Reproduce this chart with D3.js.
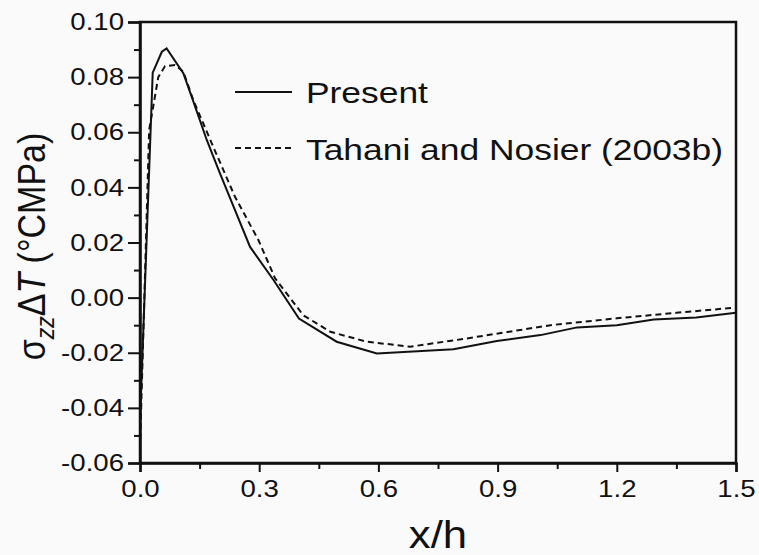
<!DOCTYPE html>
<html>
<head>
<meta charset="utf-8">
<script src="https://cdn.jsdelivr.net/npm/d3@7"></script>
<style>
  html, body { margin: 0; padding: 0; background: #fafafa; }
  svg { display: block; }
  text { font-family: Arial, "Liberation Sans", sans-serif; fill: #111; }
</style>
</head>
<body>
<svg id="chart" width="759" height="555"></svg>
<script>
// Through-thickness normal stress vs. distance from the free edge
const presentX = [0, 0.032, 0.055, 0.067, 0.109, 0.130, 0.168, 0.200, 0.277, 0.336, 0.400, 0.495, 0.596, 0.789, 0.898, 1.008, 1.100, 1.200, 1.293, 1.400, 1.500];
const presentY = [-0.045, 0.0816, 0.0892, 0.0904, 0.0814, 0.0729, 0.0572, 0.0455, 0.0184, 0.0064, -0.0076, -0.0160, -0.0203, -0.0187, -0.0157, -0.0136, -0.0108, -0.0100, -0.0079, -0.0072, -0.0055];

const tahaniX = [0, 0.023, 0.046, 0.063, 0.088, 0.109, 0.134, 0.185, 0.239, 0.298, 0.340, 0.411, 0.479, 0.571, 0.680, 0.823, 1.033, 1.200, 1.350, 1.500];
const tahaniY = [-0.055, 0.0608, 0.0800, 0.0840, 0.0844, 0.0820, 0.0717, 0.0545, 0.0366, 0.0209, 0.0070, -0.0064, -0.0124, -0.0160, -0.0178, -0.0148, -0.0100, -0.0075, -0.0055, -0.0036];

const xTicks = [0.0, 0.3, 0.6, 0.9, 1.2, 1.5];
const xMinor = [0.15, 0.45, 0.75, 1.05, 1.35];
const yTicks = [-0.06, -0.04, -0.02, 0.00, 0.02, 0.04, 0.06, 0.08, 0.10];
const yMinor = [-0.05, -0.03, -0.01, 0.01, 0.03, 0.05, 0.07, 0.09];

const seriesNames = ["Present", "Tahani and Nosier (2003b)"];

const svg = d3.select("#chart");
const plotLeft = 140, plotRight = 736, plotTop = 22, plotBottom = 463;
const widen = 1.15; // horizontal glyph stretch used for all upright text

const x = d3.scaleLinear().domain([0, 1.5]).range([plotLeft, plotRight]);
const y = d3.scaleLinear().domain([-0.06, 0.10]).range([plotBottom, plotTop]);

// plain hyphen for negatives
const fmt = v => d3.format(".2f")(v).replace("\u2212", "-");
const fmtX = d3.format(".1f");

// stretch a text element horizontally about its own anchor
function stretch(sel, k = widen) {
  sel.each(function () {
    const t = d3.select(this);
    const x0 = +t.attr("x") || 0;
    t.attr("x", x0 / k).attr("transform", `scale(${k},1)`);
  });
}

// frame
svg.append("rect")
  .attr("x", plotLeft).attr("y", plotTop)
  .attr("width", plotRight - plotLeft).attr("height", plotBottom - plotTop)
  .attr("fill", "none").attr("stroke", "#111").attr("stroke-width", 2.5);

// left axis
svg.append("g").attr("transform", `translate(${plotLeft},0)`)
  .call(d3.axisLeft(y).tickValues(yTicks).tickFormat(fmt).tickSize(12).tickPadding(4));
svg.append("g").attr("transform", `translate(${plotLeft},0)`)
  .call(d3.axisLeft(y).tickValues(yMinor).tickFormat("").tickSize(6))
  .select(".domain").remove();

// bottom axis
svg.append("g").attr("transform", `translate(0,${plotBottom})`)
  .call(d3.axisBottom(x).tickValues(xTicks).tickFormat(fmtX).tickSize(9).tickPadding(8));
svg.append("g").attr("transform", `translate(0,${plotBottom})`)
  .call(d3.axisBottom(x).tickValues(xMinor).tickFormat("").tickSize(6))
  .select(".domain").remove();

svg.selectAll(".domain").attr("stroke", "#111").attr("stroke-width", 2.5);
svg.selectAll(".tick line").attr("stroke", "#111").attr("stroke-width", 2);
svg.selectAll(".tick text").attr("font-size", 24).attr("fill", "#111")
  .attr("font-family", "Arial, 'Liberation Sans', sans-serif")
  .call(stretch);

// data lines
const line = d3.line().x(d => x(d[0])).y(d => y(d[1]));
const presentData = presentX.map((v, i) => [v, presentY[i]]);
const tahaniData = tahaniX.map((v, i) => [v, tahaniY[i]]);

svg.append("clipPath").attr("id", "plotclip")
  .append("rect").attr("x", plotLeft).attr("y", plotTop)
  .attr("width", plotRight - plotLeft).attr("height", plotBottom - plotTop);

svg.append("path").datum(presentData)
  .attr("clip-path", "url(#plotclip)")
  .attr("d", line).attr("fill", "none").attr("stroke", "#111").attr("stroke-width", 2);
svg.append("path").datum(tahaniData)
  .attr("clip-path", "url(#plotclip)")
  .attr("d", line).attr("fill", "none").attr("stroke", "#111").attr("stroke-width", 2)
  .attr("stroke-dasharray", "6,4");

// legend
const legend = svg.append("g");
legend.append("line").attr("x1", 235).attr("x2", 292).attr("y1", 92).attr("y2", 92)
  .attr("stroke", "#111").attr("stroke-width", 2);
legend.append("text").attr("x", 306).attr("y", 103).attr("font-size", 30).text(seriesNames[0]);
legend.append("line").attr("x1", 235).attr("x2", 292).attr("y1", 148).attr("y2", 148)
  .attr("stroke", "#111").attr("stroke-width", 2).attr("stroke-dasharray", "6,4");
legend.append("text").attr("x", 306).attr("y", 160).attr("font-size", 30).text(seriesNames[1]);
legend.selectAll("text").call(stretch, 1.18);

// axis titles
svg.append("text").attr("x", (plotLeft + plotRight) / 2).attr("y", 548)
  .attr("text-anchor", "middle").attr("font-size", 38).text("x/h").call(stretch);

const yt = svg.append("text")
  .attr("transform", `translate(45,${(plotTop + plotBottom) / 2 + 4}) rotate(-90) scale(1,${widen})`)
  .attr("text-anchor", "middle").attr("font-size", 34);
yt.append("tspan").text("σ");
yt.append("tspan").attr("font-size", 23).attr("font-style", "italic").attr("dy", 8).text("zz");
yt.append("tspan").attr("dy", -8).text("Δ");
yt.append("tspan").attr("font-style", "italic").text("T");
yt.append("tspan").text(" (°CMPa)");
</script>
</body>
</html>
